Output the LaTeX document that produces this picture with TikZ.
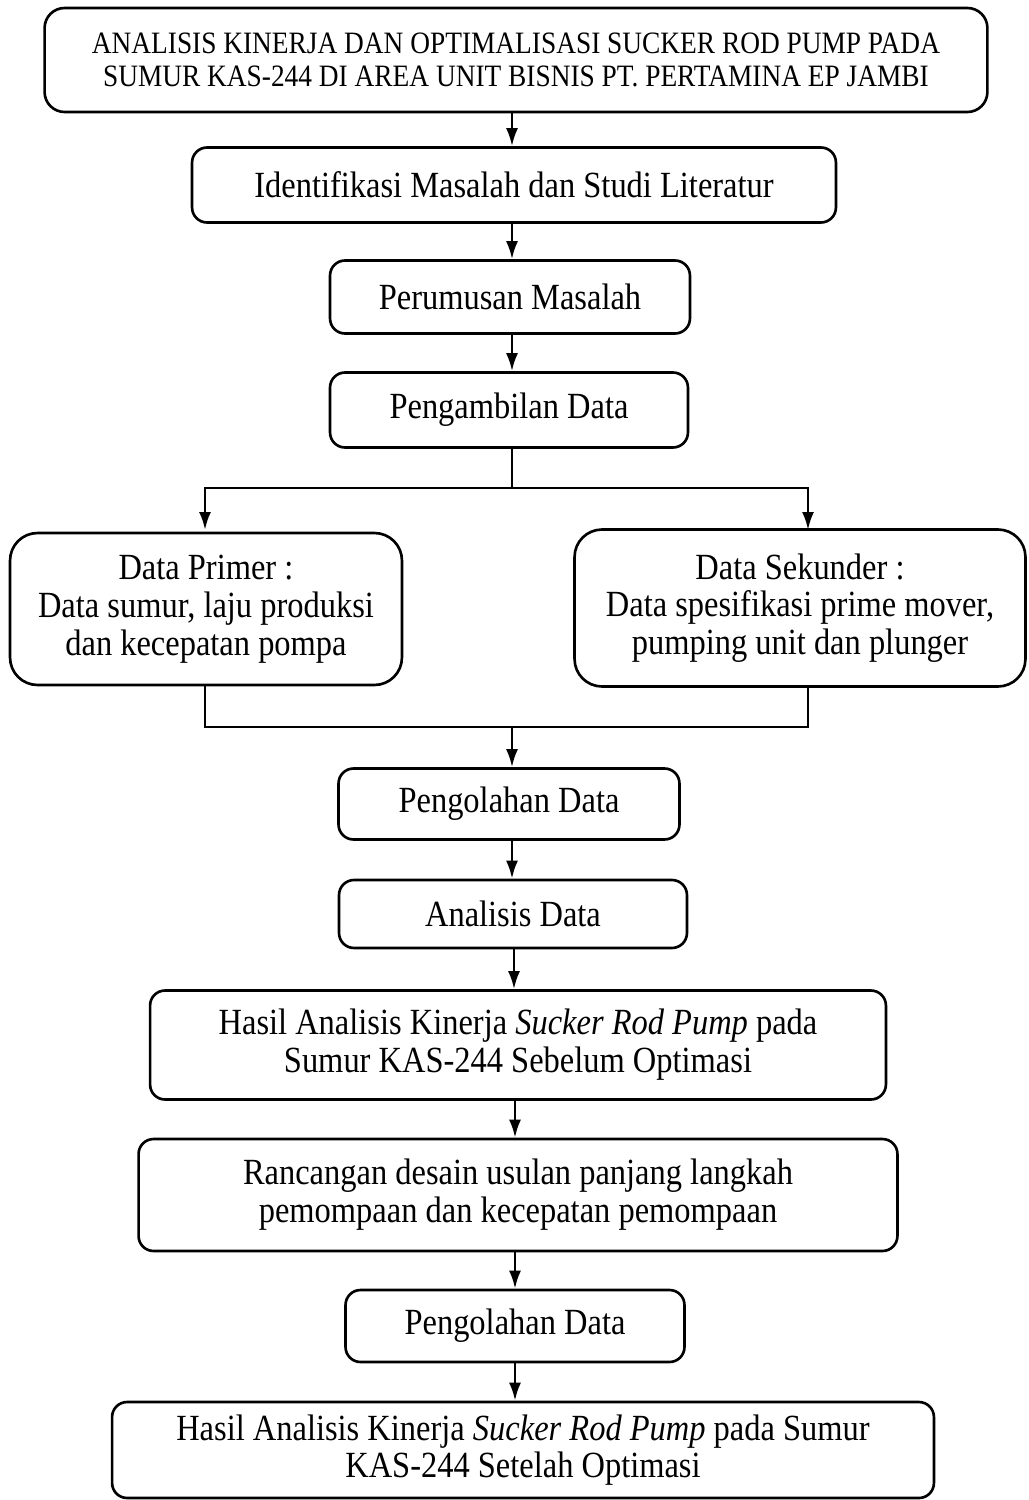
\documentclass[tikz,border=0pt]{standalone}
\usepackage{fontspec}
\setmainfont{Liberation Serif}[FakeStretch=0.88]
\usetikzlibrary{arrows.meta}

\tikzset{
  box/.style={draw,line width=1.5pt,rounded corners=0.3cm,align=center,inner sep=0pt,
    font=\fontsize{21}{21.5}\selectfont},
  bigbox/.style={box,rounded corners=0.55cm},
  judul/.style={box,rounded corners=0.4cm,font=\fontsize{17.7}{18.6}\selectfont},
}

\begin{document}
\begin{tikzpicture}[x=0.02cm,y=-0.02cm,>={Latex[length=0.36cm,width=0.24cm]},line width=1.5pt]
\useasboundingbox (0,0) rectangle (1028,1500);

\node[judul,minimum width=18.86cm,minimum height=2.08cm] (judul) at (516,60) {ANALISIS KINERJA DAN OPTIMALISASI SUCKER ROD PUMP PADA\\ SUMUR KAS-244 DI AREA UNIT BISNIS PT. PERTAMINA EP JAMBI};
\node[box,minimum width=12.88cm,minimum height=1.5cm] (identifikasi) at (514,185) {Identifikasi Masalah dan Studi Literatur};
\node[box,minimum width=7.2cm,minimum height=1.46cm] (perumusan) at (510,297) {Perumusan Masalah};
\node[box,minimum width=7.16cm,minimum height=1.5cm] (pengambilan) at (509,410) {Pengambilan Data};
\node[bigbox,minimum width=7.84cm,minimum height=3.04cm] (primer) at (206,609) {Data Primer :\\ Data sumur, laju produksi\\ dan kecepatan pompa};
\node[bigbox,minimum width=9.02cm,minimum height=3.14cm] (sekunder) at (800,608) {Data Sekunder :\\ Data spesifikasi prime mover,\\ pumping unit dan plunger};
\node[box,minimum width=6.82cm,minimum height=1.42cm] (olah1) at (509,804) {Pengolahan Data};
\node[box,minimum width=6.96cm,minimum height=1.36cm] (analisis) at (513,914) {Analisis Data};
\node[box,minimum width=14.72cm,minimum height=2.18cm] (hasil1) at (518,1045) {Hasil Analisis Kinerja \textit{Sucker Rod Pump} pada\\ Sumur KAS-244 Sebelum Optimasi};
\node[box,minimum width=15.18cm,minimum height=2.24cm] (rancangan) at (518,1195) {Rancangan desain usulan panjang langkah\\ pemompaan dan kecepatan pemompaan};
\node[box,minimum width=6.78cm,minimum height=1.44cm] (olah2) at (515,1326) {Pengolahan Data};
\node[box,minimum width=16.44cm,minimum height=1.92cm] (hasil2) at (523,1450) {Hasil Analisis Kinerja \textit{Sucker Rod Pump} pada Sumur\\ KAS-244 Setelah Optimasi};

\coordinate (cabang) at (512,488);
\coordinate (gabung) at (512,727);

\draw[->] (judul.south -| cabang) -- (cabang |- identifikasi.north);
\draw[->] (identifikasi.south -| cabang) -- (cabang |- perumusan.north);
\draw[->] (perumusan.south -| cabang) -- (cabang |- pengambilan.north);
\draw (pengambilan.south -| cabang) -- (cabang);
\draw[->] (cabang) -| (205,530);
\draw[->] (cabang) -| (808,530);
\draw (205,685) |- (gabung);
\draw (808,687) |- (gabung);
\draw[->] (gabung) -- (gabung |- olah1.north);
\draw[->] (olah1.south -| gabung) -- (gabung |- analisis.north);
\draw[->] (analisis.south -| 514,0) -- (514,0 |- hasil1.north);
\draw[->] (hasil1.south -| 515,0) -- (515,0 |- rancangan.north);
\draw[->] (rancangan.south -| 515,0) -- (515,0 |- olah2.north);
\draw[->] (olah2.south -| 515,0) -- (515,0 |- hasil2.north);
\end{tikzpicture}
\end{document}
